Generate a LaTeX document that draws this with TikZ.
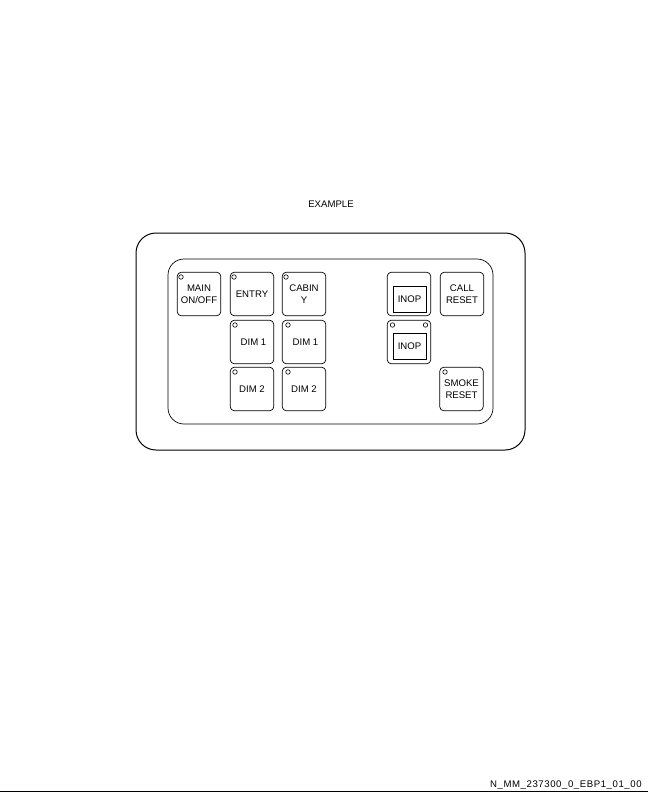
\documentclass[tikz,border=0pt]{standalone}
\usepackage{fontspec}
\setmainfont{Liberation Sans}
\newfontfamily\footerfont[LetterSpace=6]{Liberation Sans}
\usetikzlibrary{positioning}
\tikzset{
  keybox/.style={draw,rounded corners=4,minimum width=43.5,minimum height=43.5,inner sep=0,
                 align=center,font=\fontsize{9.6}{12}\selectfont},
  inopbox/.style={draw,minimum width=33,minimum height=26,inner sep=0,
                 font=\fontsize{9.6}{12}\selectfont},
  lamp/.style={draw,circle,minimum size=4.5,inner sep=0,line width=0.6}
}
\begin{document}
\begin{tikzpicture}[x=1pt,y=-1pt,line width=0.7]
\useasboundingbox (0,0) rectangle (648,792);

% title
\node[font=\fontsize{9.6}{12}\selectfont] (title) at (331,204) {EXAMPLE};

% housing
\draw[line width=1,rounded corners=20] (136,233) rectangle (525,450);
\draw[rounded corners=16] (168,259) rectangle (493,424);

% left hand keys
\node[keybox] (main) at (199,294) {MAIN\\ON/OFF};
\node[keybox] (entry) at (252,294) {ENTRY};
\node[keybox] (cabin) at (304,294) {CABIN\\Y};
\node[keybox] (dima) at (252,342) {\hspace{3pt}DIM 1};
\node[keybox] (dimb) at (304,342) {\hspace{3pt}DIM 1};
\node[keybox] (dimc) at (252,389) {DIM 2};
\node[keybox] (dimd) at (304,389) {DIM 2};

% right hand keys
\node[keybox] (inopa) at (409,294) {};
\node[keybox] (inopb) at (409,342) {};
\node[keybox] (call) at (462,294) {CALL\\RESET};
\node[keybox] (smoke) at (461.5,389) {SMOKE\\RESET};
\node[inopbox] (inopc) at (409.5,299) {INOP};
\node[inopbox] (inopd) at (409.5,346.5) {INOP};

% lamps
\node[lamp] (lmain) at (181,277) {};
\node[lamp] (lentry) at (234,277) {};
\node[lamp] (lcabin) at (286,277) {};
\node[lamp] (ldima) at (235,325) {};
\node[lamp] (ldimb) at (288,325) {};
\node[lamp] (ldimc) at (235,372) {};
\node[lamp] (ldimd) at (288,372) {};
\node[lamp] (linopa) at (392.5,325) {};
\node[lamp] (linopb) at (425.5,325) {};
\node[lamp] (lsmoke) at (445,372) {};

% footer
\node[font=\fontsize{9.6}{12}\footerfont,anchor=base east,inner sep=0] (code) at (642,787) {N\_MM\_237300\_0\_EBP1\_01\_00};
\draw (0,791) -- (648,791);
\end{tikzpicture}
\end{document}
